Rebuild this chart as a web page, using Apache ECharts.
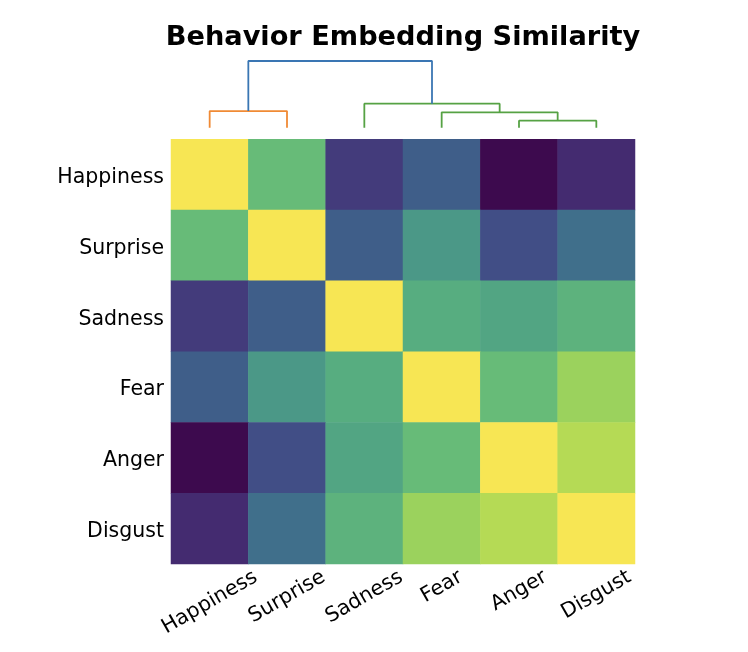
<!DOCTYPE html>
<html lang="en">
<head>
    <meta charset="UTF-8">
    <title>Behavior Embedding Similarity</title>
    <script src="https://cdn.jsdelivr.net/npm/echarts@6/dist/echarts.min.js"></script>
    <style>
        body { margin: 0; padding: 0; background: #fff; }
        #chart { width: 748px; height: 652px; }
    </style>
</head>
<body>
    <div id="chart"></div>
    <script>
        // emotions in dendrogram leaf order
        const emotions = ['Happiness', 'Surprise', 'Sadness', 'Fear', 'Anger', 'Disgust'];

        // similarity matrix (normalised to the colour scale), row by row
        const simHappiness = [1.00, 0.68, 0.14, 0.28, 0.00, 0.09];
        const simSurprise  = [0.68, 1.00, 0.28, 0.50, 0.21, 0.35];
        const simSadness   = [0.14, 0.28, 1.00, 0.60, 0.56, 0.63];
        const simFear      = [0.28, 0.50, 0.60, 1.00, 0.68, 0.82];
        const simAnger     = [0.00, 0.21, 0.56, 0.68, 1.00, 0.88];
        const simDisgust   = [0.09, 0.35, 0.63, 0.82, 0.88, 1.00];

        // linkage: [left cluster, right cluster, merge height]; new clusters get ids 6,7,...
        const linkage = [
            [4, 5, 0.21],
            [3, 6, 0.46],
            [0, 1, 0.50],
            [2, 7, 0.72],
            [8, 9, 2.00]
        ];
        const linkColors = ['#56a244', '#56a244', '#f08a35', '#56a244', '#3a76b3'];

        // viridis-like palette as seen in the picture
        const palette = ['#3d0a4e', '#452f74', '#414c86', '#3e638a', '#427b8b', '#4b9887',
                         '#57ad80', '#6bbf76', '#93d060', '#bddc52', '#f7e654'];

        const fontFamily = '"DejaVu Sans", sans-serif';
        const fontSize = 20.5;

        const rows = [simHappiness, simSurprise, simSadness, simFear, simAnger, simDisgust];
        const heatData = [];
        rows.forEach((row, r) => row.forEach((v, c) => heatData.push([c, r, v])));

        // dendrogram links from the linkage
        const pos = emotions.map((_, i) => [i + 0.5, 0]);
        const dendroSeries = linkage.map(([a, b, h], i) => {
            const pa = pos[a], pb = pos[b];
            pos.push([(pa[0] + pb[0]) / 2, h]);
            return {
                type: 'line', xAxisIndex: 1, yAxisIndex: 1,
                data: [[pa[0], pa[1]], [pa[0], h], [pb[0], h], [pb[0], pb[1]]],
                symbol: 'none', silent: true,
                lineStyle: { color: linkColors[i], width: 1.8 }
            };
        });

        // text widths, needed to centre the rotated x labels like matplotlib does
        const ctx = document.createElement('canvas').getContext('2d');
        ctx.font = fontSize + 'px ' + fontFamily;
        const labelWidths = emotions.map(name => ctx.measureText(name).width);
        const last = emotions.length - 1;

        const chart = echarts.init(document.getElementById('chart'));
        chart.setOption({
            backgroundColor: '#fff',
            animation: false,
            title: {
                text: 'Behavior Embedding Similarity',
                left: 398, top: 19, textAlign: 'center',
                textStyle: { fontFamily: fontFamily, fontSize: 27.2, fontWeight: 'bold', color: '#000' }
            },
            grid: [
                { left: 171, right: 113, top: 139.3, bottom: 88 },
                { left: 171, right: 113, top: 61, bottom: 652 - 127.7 }
            ],
            xAxis: [
                {
                    type: 'category', data: emotions, gridIndex: 0,
                    axisLine: { show: false }, axisTick: { show: false },
                    axisLabel: { show: false }, splitArea: { show: false }
                },
                { type: 'value', gridIndex: 1, min: 0, max: 6, show: false }
            ],
            yAxis: [
                {
                    type: 'category', data: emotions, inverse: true, gridIndex: 0,
                    axisLine: { show: false }, axisTick: { show: false },
                    axisLabel: { show: false }
                },
                { type: 'value', gridIndex: 1, min: 0, max: 2, show: false }
            ],
            visualMap: {
                show: false, min: 0, max: 1, dimension: 2, seriesIndex: 0,
                inRange: { color: palette }
            },
            series: [
                {
                    type: 'heatmap', data: heatData, xAxisIndex: 0, yAxisIndex: 0,
                    itemStyle: { borderWidth: 0 }, silent: true
                },
                // x tick labels, rotated 30 degrees, box centred under each column
                {
                    type: 'custom', xAxisIndex: 0, yAxisIndex: 0, silent: true, clip: false,
                    data: emotions.map((_, i) => [i, last]),
                    renderItem: (params, api) => {
                        const i = api.value(0);
                        const c = api.coord([i, last]);
                        const bottom = c[1] + api.size([1, 1])[1] / 2;
                        return {
                            type: 'text', x: c[0], y: bottom + 11.7 + labelWidths[i] / 4,
                            rotation: Math.PI / 6,
                            style: {
                                text: emotions[i], fontFamily: fontFamily, fontSize: fontSize,
                                fill: '#000', align: 'center', verticalAlign: 'middle'
                            }
                        };
                    }
                },
                // y tick labels
                {
                    type: 'custom', xAxisIndex: 0, yAxisIndex: 0, silent: true, clip: false,
                    data: emotions.map((_, i) => [0, i]),
                    renderItem: (params, api) => {
                        const i = api.value(1);
                        const c = api.coord([0, i]);
                        const left = c[0] - api.size([1, 1])[0] / 2;
                        return {
                            type: 'text', x: left - 7, y: c[1] + 3,
                            style: {
                                text: emotions[i], fontFamily: fontFamily, fontSize: fontSize,
                                fill: '#000', align: 'right', verticalAlign: 'middle'
                            }
                        };
                    }
                },
                ...dendroSeries
            ]
        });
    </script>
</body>
</html>
